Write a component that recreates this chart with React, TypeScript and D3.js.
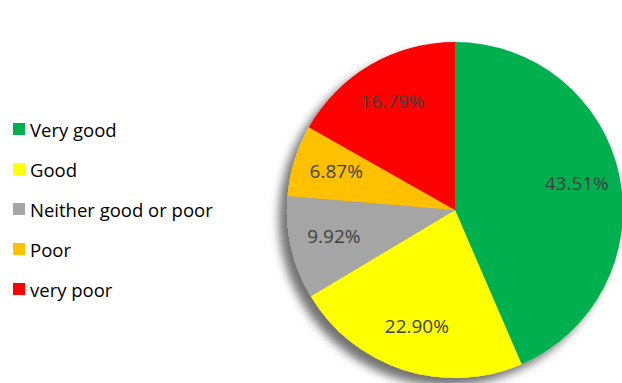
import React from "react";
import * as d3 from "d3";

const categories = ["Very good", "Good", "Neither good or poor", "Poor", "very poor"];
const values = [43.51, 22.9, 9.92, 6.87, 16.79];
const labels = ["43.51%", "22.90%", "9.92%", "6.87%", "16.79%"];
const colors = ["#00B050", "#FFFF00", "#A5A5A5", "#FFC000", "#FF0000"];

const W = 622;
const H = 383;
const cx = 455;
const cy = 210;
const R = 168;

export default function App() {
  const pie = d3.pie<number>().sort(null).value((d) => d)(values);
  const arc = d3.arc<d3.PieArcDatum<number>>().innerRadius(0).outerRadius(R);
  const labelArc = d3.arc<d3.PieArcDatum<number>>().innerRadius(R * 0.74).outerRadius(R * 0.74);
  const legendY = d3.scalePoint<string>().domain(categories).range([129, 289]);
  const font = "'Open Sans', sans-serif";
  return (
    <svg width={W} height={H} style={{ position: "absolute", left: 0, top: 0 }} fontFamily={font}>
      <defs>
        <filter id="sh" x="-20%" y="-20%" width="140%" height="140%">
          <feDropShadow dx={-8} dy={8} stdDeviation={5} floodColor="#000" floodOpacity={0.55} />
        </filter>
      </defs>
      <rect width={W} height={H} fill="#fff" />
      <g transform={`translate(${cx},${cy})`}>
        <g filter="url(#sh)">
          {pie.map((p, i) => (
            <path key={i} d={arc(p) || ""} fill={colors[i]} />
          ))}
        </g>
        {pie.map((p, i) => {
          const [x, y] = labelArc.centroid(p);
          return (
            <text key={i} x={x} y={y - 2} textAnchor="middle" dominantBaseline="central" fontSize={19} fill="#404040">
              {labels[i]}
            </text>
          );
        })}
      </g>
      {categories.map((c, i) => {
        const y = legendY(c)!;
        return (
          <g key={c}>
            <rect x={13} y={y - 6} width={12} height={12} fill={colors[i]} />
            <text x={30} y={y} dominantBaseline="central" fontSize={18.5} fill="#000">
              {c}
            </text>
          </g>
        );
      })}
    </svg>
  );
}
